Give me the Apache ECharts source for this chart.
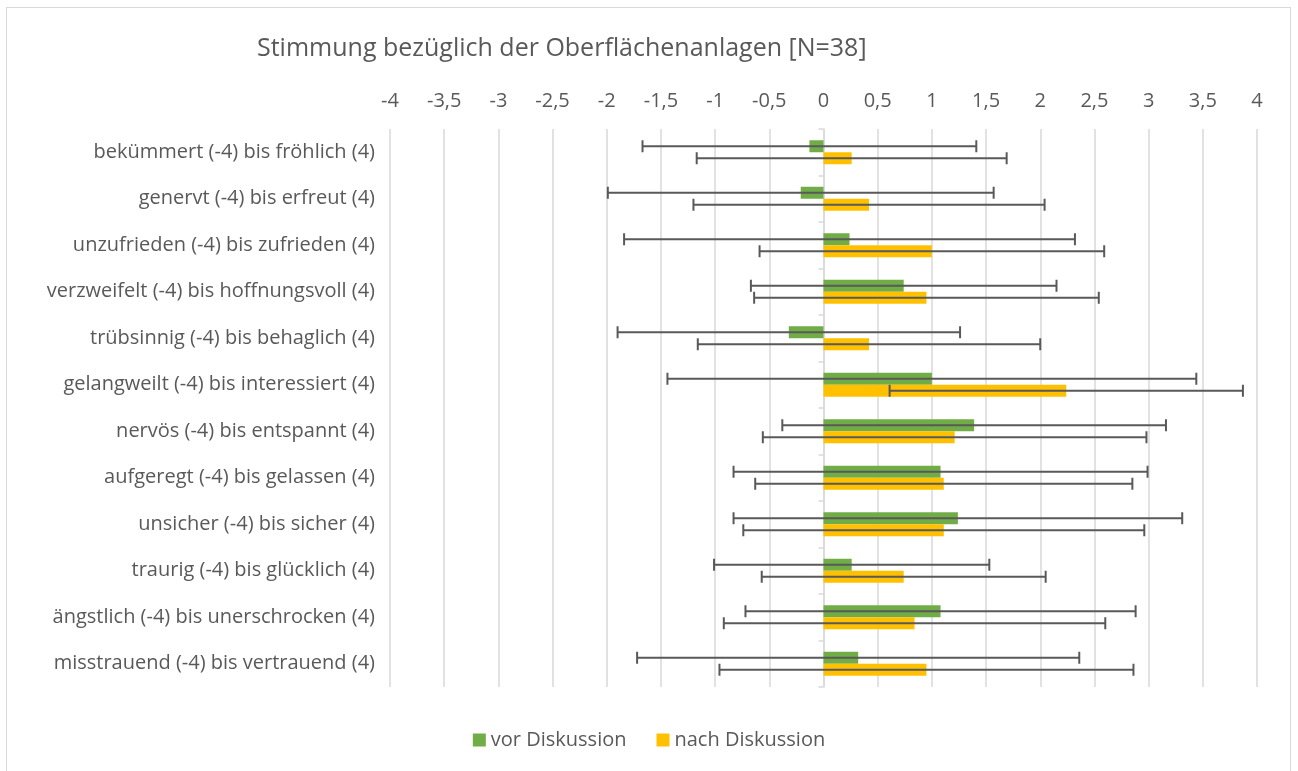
<!DOCTYPE html>
<html>
<head>
<meta charset="utf-8">
<script src="https://cdn.jsdelivr.net/npm/echarts@6/dist/echarts.min.js"></script>
<style>
html,body{margin:0;padding:0;background:#fff;}
#frame{position:absolute;left:6px;top:7px;width:1285px;height:780px;border:1.5px solid #d9d9d9;box-sizing:border-box;}
#chart{position:absolute;left:0;top:0;width:1298px;height:771px;}
</style>
</head>
<body>
<div id="frame"></div>
<div id="chart"></div>
<script>
const titleText = 'Stimmung bezüglich der Oberflächenanlagen [N=38]';
const categories = [
  'bekümmert (-4) bis fröhlich (4)',
  'genervt (-4) bis erfreut (4)',
  'unzufrieden (-4) bis zufrieden (4)',
  'verzweifelt (-4) bis hoffnungsvoll (4)',
  'trübsinnig (-4) bis behaglich (4)',
  'gelangweilt (-4) bis interessiert (4)',
  'nervös (-4) bis entspannt (4)',
  'aufgeregt (-4) bis gelassen (4)',
  'unsicher (-4) bis sicher (4)',
  'traurig (-4) bis glücklich (4)',
  'ängstlich (-4) bis unerschrocken (4)',
  'misstrauend (-4) bis vertrauend (4)'
];
const seriesNames = ['vor Diskussion', 'nach Diskussion'];
const vorMean = [-0.13, -0.21, 0.24, 0.74, -0.32, 1.0, 1.39, 1.08, 1.24, 0.26, 1.08, 0.32];
const vorSD   = [1.54, 1.78, 2.08, 1.41, 1.58, 2.44, 1.77, 1.91, 2.07, 1.27, 1.80, 2.04];
const nachMean = [0.26, 0.42, 1.0, 0.95, 0.42, 2.24, 1.21, 1.11, 1.11, 0.74, 0.84, 0.95];
const nachSD   = [1.43, 1.62, 1.59, 1.59, 1.58, 1.63, 1.77, 1.74, 1.85, 1.31, 1.76, 1.91];
const xMin = -4, xMax = 4, xStep = 0.5;

const FONT = 'Open Sans';
const TXT = '#595959';
const BAR_W = 12;

function errData(means, sds, sIdx) {
  return means.map((m, i) => [i, m - sds[i], m + sds[i], sIdx]);
}

function renderErr(params, api) {
  const cat = api.value(0);
  const sIdx = api.value(3);
  const off = (sIdx === 0 ? -1 : 1) * BAR_W / 2;
  const p1 = api.coord([api.value(1), cat]);
  const p2 = api.coord([api.value(2), cat]);
  const y = p1[1] + off;
  const cap = 6;
  const style = { stroke: '#595959', lineWidth: 2 };
  return {
    type: 'group',
    children: [
      { type: 'line', shape: { x1: p1[0], y1: y, x2: p2[0], y2: y }, style },
      { type: 'line', shape: { x1: p1[0], y1: y - cap, x2: p1[0], y2: y + cap }, style },
      { type: 'line', shape: { x1: p2[0], y1: y - cap, x2: p2[0], y2: y + cap }, style }
    ]
  };
}

const chart = echarts.init(document.getElementById('chart'));
chart.setOption({
  animation: false,
  textStyle: { fontFamily: FONT },
  title: {
    text: titleText,
    left: 252, top: 31,
    textStyle: { fontFamily: FONT, fontSize: 25, fontWeight: 'normal', color: TXT }
  },
  legend: {
    bottom: 16,
    left: 'center',
    itemWidth: 13, itemHeight: 13, itemGap: 30,
    icon: 'rect',
    data: seriesNames,
    textStyle: { fontFamily: FONT, fontSize: 20, color: TXT }
  },
  grid: { left: 390, right: 41, top: 129, bottom: 84, containLabel: false },
  xAxis: {
    type: 'value', position: 'top',
    min: xMin, max: xMax, interval: xStep,
    axisLine: { show: false }, axisTick: { show: false },
    splitLine: { lineStyle: { color: '#d9d9d9', width: 1.5 } },
    axisLabel: {
      margin: 18, fontSize: 20, color: TXT, fontFamily: FONT,
      formatter: v => String(v).replace('.', ',')
    }
  },
  yAxis: [
    {
      type: 'category', data: categories, inverse: true, position: 'left',
      axisLine: { show: false, onZero: false }, axisTick: { show: false },
      axisLabel: { margin: 15, fontSize: 20, color: TXT, fontFamily: FONT }
    },
    {
      type: 'category', data: categories, inverse: true, position: 'left',
      axisLine: { show: true, onZero: true, lineStyle: { color: '#d9d9d9', width: 1.5 } },
      axisTick: { show: true, length: 5, lineStyle: { color: '#d9d9d9', width: 1.5 } },
      axisLabel: { show: false }, splitLine: { show: false }
    }
  ],
  series: [
    { name: seriesNames[0], type: 'bar', yAxisIndex: 0, data: vorMean, barWidth: BAR_W, barGap: '0%',
      itemStyle: { color: '#70ad47' } },
    { name: seriesNames[1], type: 'bar', yAxisIndex: 0, data: nachMean, barWidth: BAR_W, barGap: '0%',
      itemStyle: { color: '#ffc000' } },
    { type: 'custom', yAxisIndex: 0, renderItem: renderErr, data: errData(vorMean, vorSD, 0),
      encode: { x: [1, 2], y: 0 }, z: 5, silent: true },
    { type: 'custom', yAxisIndex: 0, renderItem: renderErr, data: errData(nachMean, nachSD, 1),
      encode: { x: [1, 2], y: 0 }, z: 5, silent: true }
  ]
});
</script>
</body>
</html>
